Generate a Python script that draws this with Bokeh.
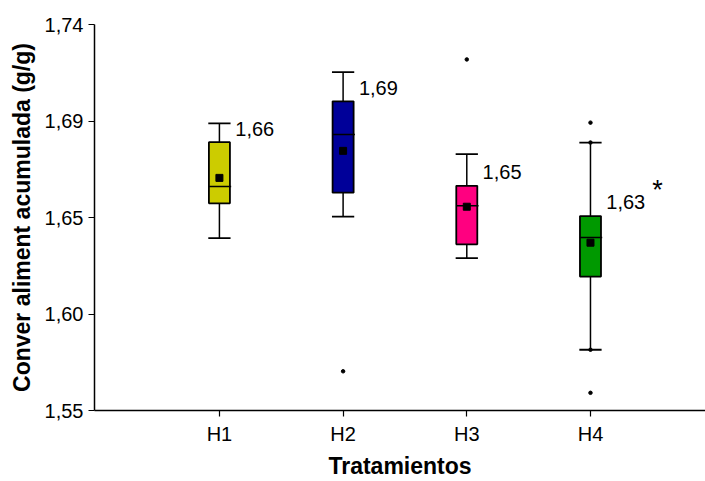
import numpy as np
from bokeh.plotting import figure
from bokeh.models import Range1d, FixedTicker, Label
from bokeh.core.properties import value
from bokeh.embed import file_html
from bokeh.resources import INLINE

# ---- data ----
categories = ["H1", "H2", "H3", "H4"]
lower_whisker = [1.6348, 1.6454, 1.6250, 1.5799]
q1 = [1.6520, 1.6572, 1.6318, 1.6159]
median = [1.6603, 1.6858, 1.6508, 1.6351]
q3 = [1.6821, 1.7022, 1.6606, 1.6457]
upper_whisker = [1.6913, 1.7166, 1.6762, 1.6819]
means = [1.6645, 1.6778, 1.6503, 1.6326]
colors = ["#CCCC00", "#000099", "#FF0080", "#009900"]

outlier_group = [2, 3, 4, 4, 4, 4]
outlier_value = [1.5693, 1.7228, 1.6917, 1.6819, 1.5799, 1.5587]

mean_labels = ["1,66", "1,69", "1,65", "1,63"]
mean_label_y = [1.6885, 1.7089, 1.6675, 1.6528]

y_ticks = [1.55, 1.5975, 1.645, 1.6925, 1.74]
y_tick_labels = ["1,55", "1,60", "1,65", "1,69", "1,74"]

FONT = "Liberation Sans"

x = np.arange(1, len(categories) + 1, dtype=float)

p = figure(width=705, height=481, output_backend="svg", toolbar_location=None,
           x_range=Range1d(-0.01, 4.93), y_range=Range1d(1.55, 1.74),
           min_border_left=94, min_border_right=0, min_border_top=24,
           min_border_bottom=70)
p.outline_line_color = None
p.xgrid.visible = False
p.ygrid.visible = False
p.background_fill_color = "white"
p.border_fill_color = "white"

# axes
p.xaxis.ticker = FixedTicker(ticks=list(x))
p.xaxis.major_label_overrides = {float(v): c for v, c in zip(x, categories)}
p.xaxis.major_label_overrides.update({int(v): c for v, c in zip(x, categories)})
p.yaxis.ticker = FixedTicker(ticks=y_ticks)
p.yaxis.major_label_overrides = dict(zip(y_ticks, y_tick_labels))
for ax in (p.xaxis, p.yaxis):
    ax.axis_line_color = "black"
    ax.axis_line_width = 1.5
    ax.major_tick_line_color = "black"
    ax.major_tick_line_width = 1.2
    ax.major_tick_in = 0
    ax.major_tick_out = 6
    ax.minor_tick_line_color = None
    ax.major_label_text_font = FONT
    ax.major_label_text_font_size = "20px"
    ax.major_label_text_color = "black"
    ax.axis_label_text_font = FONT
    ax.axis_label_text_font_size = "23px"
    ax.axis_label_text_font_style = "bold"
    ax.axis_label_text_color = "black"
p.xaxis.axis_label = "Tratamientos"
p.yaxis.axis_label = "Conver aliment acumulada (g/g)"
p.xaxis.major_label_standoff = 6
p.xaxis.axis_label_standoff = 5
p.yaxis.major_label_standoff = 5
p.yaxis.axis_label_standoff = 7

bw = 0.17
cw = 0.18

# whiskers
p.segment(x0=x, x1=x, y0=q3, y1=upper_whisker, line_color="black", line_width=1.5)
p.segment(x0=x, x1=x, y0=q1, y1=lower_whisker, line_color="black", line_width=1.5)
# caps
p.segment(x0=x - cw / 2, x1=x + cw / 2, y0=upper_whisker, y1=upper_whisker,
          line_color="black", line_width=1.8)
p.segment(x0=x - cw / 2, x1=x + cw / 2, y0=lower_whisker, y1=lower_whisker,
          line_color="black", line_width=1.8)
# boxes
p.vbar(x=x, width=bw, bottom=q1, top=q3, fill_color=colors,
       line_color="black", line_width=1.8)
# medians
p.segment(x0=x - bw / 2, x1=x + bw / 2 + 0.01, y0=median, y1=median,
          line_color="black", line_width=1.5)
# means
p.scatter(x=x, y=means, marker="square", size=7, fill_color="black",
          line_color="black")
# outliers
p.scatter(x=outlier_group, y=outlier_value, marker="circle", size=3.5,
          fill_color="black", line_color="black")

# mean labels
p.text(x=x + 0.128, y=mean_label_y, text=mean_labels, text_font=value(FONT),
       text_font_size="20px", text_align="left", text_baseline="middle",
       text_color="black")

p.add_layout(Label(x=4.5, y=1.6585, text="*", text_font=FONT,
                   text_font_size="27px", text_align="left",
                   text_baseline="middle", text_color="black"))

open("out.html", "w").write(file_html(p, INLINE))
